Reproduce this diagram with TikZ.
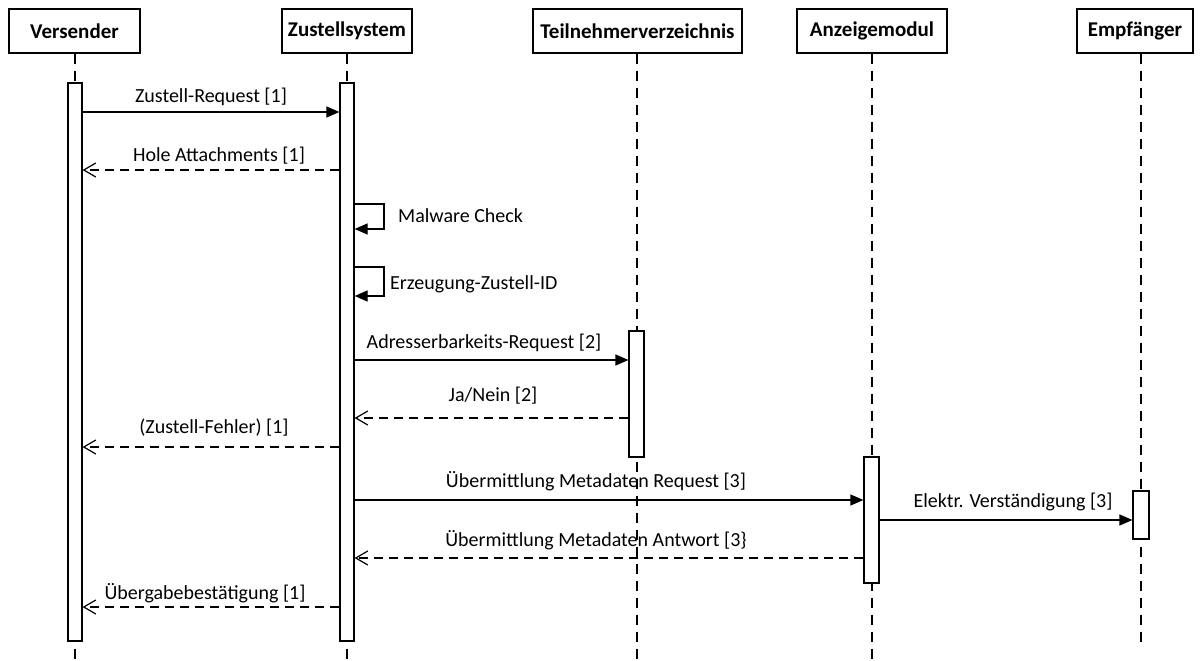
\documentclass[tikz,border=0pt]{standalone}
\usepackage{fontspec}
\setmainfont{Carlito}
\usetikzlibrary{arrows.meta}
\begin{document}
\begin{tikzpicture}[x=1pt,y=-1pt,
  head/.style={draw, line width=1.2pt, minimum height=44pt, inner sep=0pt,
    font=\fontsize{21}{25}\selectfont\bfseries},
  life/.style={line width=1.1pt, dash pattern=on 10pt off 7pt},
  bar/.style={draw, fill=white, line width=1.2pt, minimum width=14pt, inner sep=0pt},
  call/.style={line width=1.2pt, -{Triangle[length=13pt,width=11pt]}},
  ret/.style={line width=1.2pt, dash pattern=on 9pt off 6pt, -{Straight Barb[length=12pt,width=14pt]}},
  lbl/.style={font=\fontsize{20}{24}\selectfont, inner sep=0pt}]
\useasboundingbox (0,0) rectangle (1202,661);
\fill[white] (0,0) rectangle (1202,661);

% heads
\node[head, minimum width=131pt] (hV) at (74.5,31) {Versender};
\node[head, minimum width=130pt] (hZ) at (347,31) {Zustellsystem};
\node[head, minimum width=209pt] (hT) at (637.5,31) {Teilnehmerverzeichnis};
\node[head, minimum width=150pt] (hA) at (872,31) {Anzeigemodul};
\node[head, minimum width=116pt] (hE) at (1135,31) {Empfänger};

% lifeline ends
\coordinate (eV) at (75,661);
\coordinate (eZ) at (347,661);
\coordinate (eT) at (637,661);
\coordinate (eA) at (872,661);
\coordinate (eE) at (1141,642);
\draw[life] (hV.south -| eV) -- (eV);
\draw[life] (hZ.south -| eZ) -- (eZ);
\draw[life] (hT.south -| eT) -- (eT);
\draw[life] (hA.south -| eA) -- (eA);
\draw[life] (hE.south -| eE) -- (eE);

% activation bars
\node[bar, minimum height=558pt] (bV) at (75,362) {};
\node[bar, minimum height=558pt] (bZ) at (347,362) {};
\node[bar, minimum width=15pt, minimum height=126pt] (bT) at (636.5,394) {};
\node[bar, minimum width=15pt, minimum height=126pt] (bA) at (871.5,520) {};
\node[bar, minimum width=16pt, minimum height=48pt] (bE) at (1141,515) {};

% message heights
\coordinate (m1) at (0,112);
\coordinate (m2) at (0,170);
\coordinate (m3a) at (0,204);
\coordinate (m3b) at (0,229);
\coordinate (m4a) at (0,267);
\coordinate (m4b) at (0,296);
\coordinate (m5) at (0,360);
\coordinate (m6) at (0,418);
\coordinate (m7) at (0,447);
\coordinate (m8) at (0,500);
\coordinate (m9) at (0,520);
\coordinate (m10) at (0,558);
\coordinate (m11) at (0,607);

% messages
\draw[call] (bV.east |- m1) -- (bZ.west |- m1);
\node[lbl] (l1) at (211,97) {Zustell-Request [1]};

\draw[ret] (bZ.west |- m2) -- (bV.east |- m2);
\node[lbl] (l2) at (219,156) {Hole Attachments [1]};

\draw[call] (bZ.east |- m3a) -- (384,204) -- (384,229) -- (bZ.east |- m3b);
\node[lbl, anchor=west] (l3) at (398,216) {Malware Check};

\draw[call] (bZ.east |- m4a) -- (384,267) -- (384,296) -- (bZ.east |- m4b);
\node[lbl, anchor=west] (l4) at (390,284) {Erzeugung-Zustell-ID};

\draw[call] (bZ.east |- m5) -- (bT.west |- m5);
\node[lbl] (l5) at (484,343) {Adresserbarkeits-Request [2]};

\draw[ret] (bT.west |- m6) -- (bZ.east |- m6);
\node[lbl] (l6) at (493,396) {Ja/Nein [2]};

\draw[ret] (bZ.west |- m7) -- (bV.east |- m7);
\node[lbl] (l7) at (214,428) {(Zustell-Fehler) [1]};

\draw[call] (bZ.east |- m8) -- (bA.west |- m8);
\node[lbl] (l8) at (596,481) {Übermittlung Metadaten Request [3]};

\draw[call] (bA.east |- m9) -- (bE.west |- m9);
\node[lbl] (l9) at (1013,502) {Elektr. Verständigung [3]};

\draw[ret] (bA.west |- m10) -- (bZ.east |- m10);
\node[lbl] (l10) at (596,540) {Übermittlung Metadaten Antwort [3\}};

\draw[ret] (bZ.west |- m11) -- (bV.east |- m11);
\node[lbl] (l11) at (205,593) {Übergabebestätigung [1]};
\end{tikzpicture}
\end{document}
